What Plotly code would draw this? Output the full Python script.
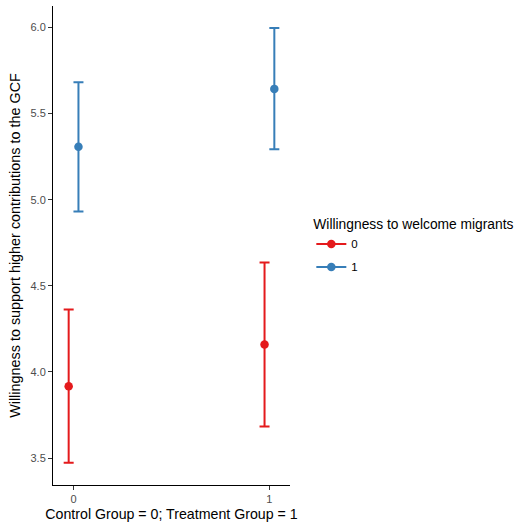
import plotly.graph_objects as go

groups = ["0", "1"]
colors = {"0": "#E41A1C", "1": "#377EB8"}
x_vals = [0, 1]
dodge = {"0": -0.025, "1": 0.025}
means = {"0": [3.917, 4.159], "1": [5.307, 5.643]}
upper = {"0": [4.363, 4.635], "1": [5.682, 5.997]}
lower = {"0": [3.473, 3.683], "1": [4.932, 5.292]}

FONT = "Liberation Sans, Arial, sans-serif"

fig = go.Figure()
for g in groups:
    xs = [x + dodge[g] for x in x_vals]
    fig.add_trace(go.Scatter(
        x=xs, y=means[g], mode="markers",
        marker=dict(color=colors[g], size=8.5),
        error_y=dict(type="data", symmetric=False,
                     array=[u - m for u, m in zip(upper[g], means[g])],
                     arrayminus=[m - l for m, l in zip(means[g], lower[g])],
                     color=colors[g], thickness=2, width=5),
        showlegend=False, hoverinfo="skip"))
for g in groups:
    fig.add_trace(go.Scatter(
        x=[None], y=[None], mode="lines+markers", name=g, legendgroup="g" + g,
        line=dict(color=colors[g], width=2),
        marker=dict(color=colors[g], size=8.5)))

fig.update_layout(
    width=522, height=525,
    margin=dict(l=53, r=232, t=6, b=37),
    paper_bgcolor="white", plot_bgcolor="white",
    font=dict(family=FONT, color="black"),
    legend=dict(
        title=dict(text="Willingness to welcome migrants", font=dict(size=13.8)),
        font=dict(size=11.5), x=1.09, xanchor="left", y=0.571, yanchor="top",
        itemwidth=30, tracegroupgap=4),
)
fig.update_xaxes(
    range=[-0.105, 1.105], tickvals=[0, 1], ticktext=["0", "1"],
    showgrid=False, zeroline=False, showline=True, linecolor="black", linewidth=1,
    ticks="outside", ticklen=4, tickcolor="#333333",
    tickfont=dict(size=11, color="#4d4d4d"),
    title=dict(text="Control Group = 0; Treatment Group = 1", font=dict(size=14.2), standoff=4))
fig.update_yaxes(
    range=[3.344, 6.124], tickvals=[3.5, 4.0, 4.5, 5.0, 5.5, 6.0],
    ticktext=["3.5", "4.0", "4.5", "5.0", "5.5", "6.0"],
    showgrid=False, zeroline=False, showline=True, linecolor="black", linewidth=1,
    ticks="outside", ticklen=4, tickcolor="#333333",
    tickfont=dict(size=11, color="#4d4d4d"),
    title=dict(text="Willingness to support higher contributions to the GCF", font=dict(size=14.4), standoff=6))

fig.write_html("out.html")
